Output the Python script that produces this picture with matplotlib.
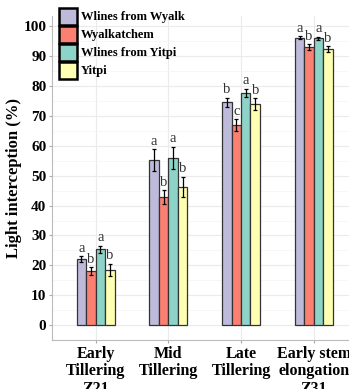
import numpy as np
import matplotlib
matplotlib.use('Agg')
import matplotlib.pyplot as plt
from matplotlib.patches import Patch

# data
stages = ['Early\nTillering\nZ21', 'Mid\nTillering', 'Late\nTillering', 'Early stem\nelongation\nZ31']
lines = ['Wlines from Wyalk', 'Wyalkatchem', 'Wlines from Yitpi', 'Yitpi']
colors = ['#BEBADA', '#FB8072', '#8DD3C7', '#FFFFB3']

wyalk_lines = [22.0, 55.2, 74.6, 96.2]
wyalkatchem = [18.0, 42.9, 66.9, 93.0]
yitpi_lines = [25.3, 55.9, 77.7, 96.0]
yitpi = [18.5, 46.3, 73.9, 92.3]

wyalk_lines_err = [1.0, 3.6, 1.5, 0.5]
wyalkatchem_err = [1.4, 2.2, 2.0, 1.0]
yitpi_lines_err = [1.3, 3.8, 1.4, 0.5]
yitpi_err = [2.0, 3.3, 2.0, 1.0]

wyalk_lines_let = ['a', 'a', 'b', 'a']
wyalkatchem_let = ['b', 'b', 'c', 'b']
yitpi_lines_let = ['a', 'a', 'a', 'a']
yitpi_let = ['b', 'b', 'b', 'b']

values = [wyalk_lines, wyalkatchem, yitpi_lines, yitpi]
errors = [wyalk_lines_err, wyalkatchem_err, yitpi_lines_err, yitpi_err]
letters = [wyalk_lines_let, wyalkatchem_let, yitpi_lines_let, yitpi_let]

plt.rcParams['font.family'] = ['Liberation Serif']

fig = plt.figure(figsize=(3.49, 3.89), dpi=100)
ax = fig.add_axes([0.149, 0.126, 0.851, 0.833])

x = np.arange(1, len(stages) + 1)
w = 0.13
for i in range(4):
    pos = x + (i - 1.5) * w
    ax.bar(pos, values[i], width=w, color=colors[i], edgecolor='#333333',
           linewidth=0.9, zorder=3)
    ax.errorbar(pos, values[i], yerr=errors[i], fmt='none', ecolor='black',
                elinewidth=0.9, capsize=1.5, capthick=0.9, zorder=4)
    for p, v, e, t in zip(pos, values[i], errors[i], letters[i]):
        ax.text(p, v + e + 0.5, t, ha='center', va='bottom', fontsize=10.5,
                color='#333333', zorder=5)

ax.set_xlim(0.4, 4.485)
ax.set_ylim(-5, 103.5)
ax.set_xticks(x)
ax.set_xticklabels(stages, fontsize=11.5, fontweight='bold', linespacing=1.15)
ax.set_yticks(np.arange(0, 101, 10))
ax.set_yticklabels([str(v) for v in range(0, 101, 10)], fontsize=11, fontweight='bold')
ax.set_yticks(np.arange(5, 101, 10), minor=True)
ax.set_ylabel('Light interception (%)', fontsize=12, fontweight='bold', labelpad=1)

ax.grid(True, which='major', color='#ebebeb', linewidth=0.8, zorder=0)
ax.grid(True, which='minor', axis='y', color='#f4f4f4', linewidth=0.5, zorder=0)
ax.tick_params(axis='y', which='minor', length=0)
ax.tick_params(axis='both', which='major', color='#aaaaaa', length=2, pad=2)
for s in ['top', 'right']:
    ax.spines[s].set_visible(False)
for s in ['left', 'bottom']:
    ax.spines[s].set_color('#bbbbbb')
    ax.spines[s].set_linewidth(0.8)

handles = [Patch(facecolor=c, edgecolor='black', linewidth=1.8) for c in colors]
leg = fig.legend(handles, lines, loc='upper left', bbox_to_anchor=(0.168, 0.979),
                 frameon=False, prop={'weight': 'bold', 'size': 9},
                 handlelength=1.5, handleheight=1.65, handletextpad=0.25,
                 labelspacing=0.12, borderaxespad=0, borderpad=0)

fig.savefig('out.png', dpi=100)
